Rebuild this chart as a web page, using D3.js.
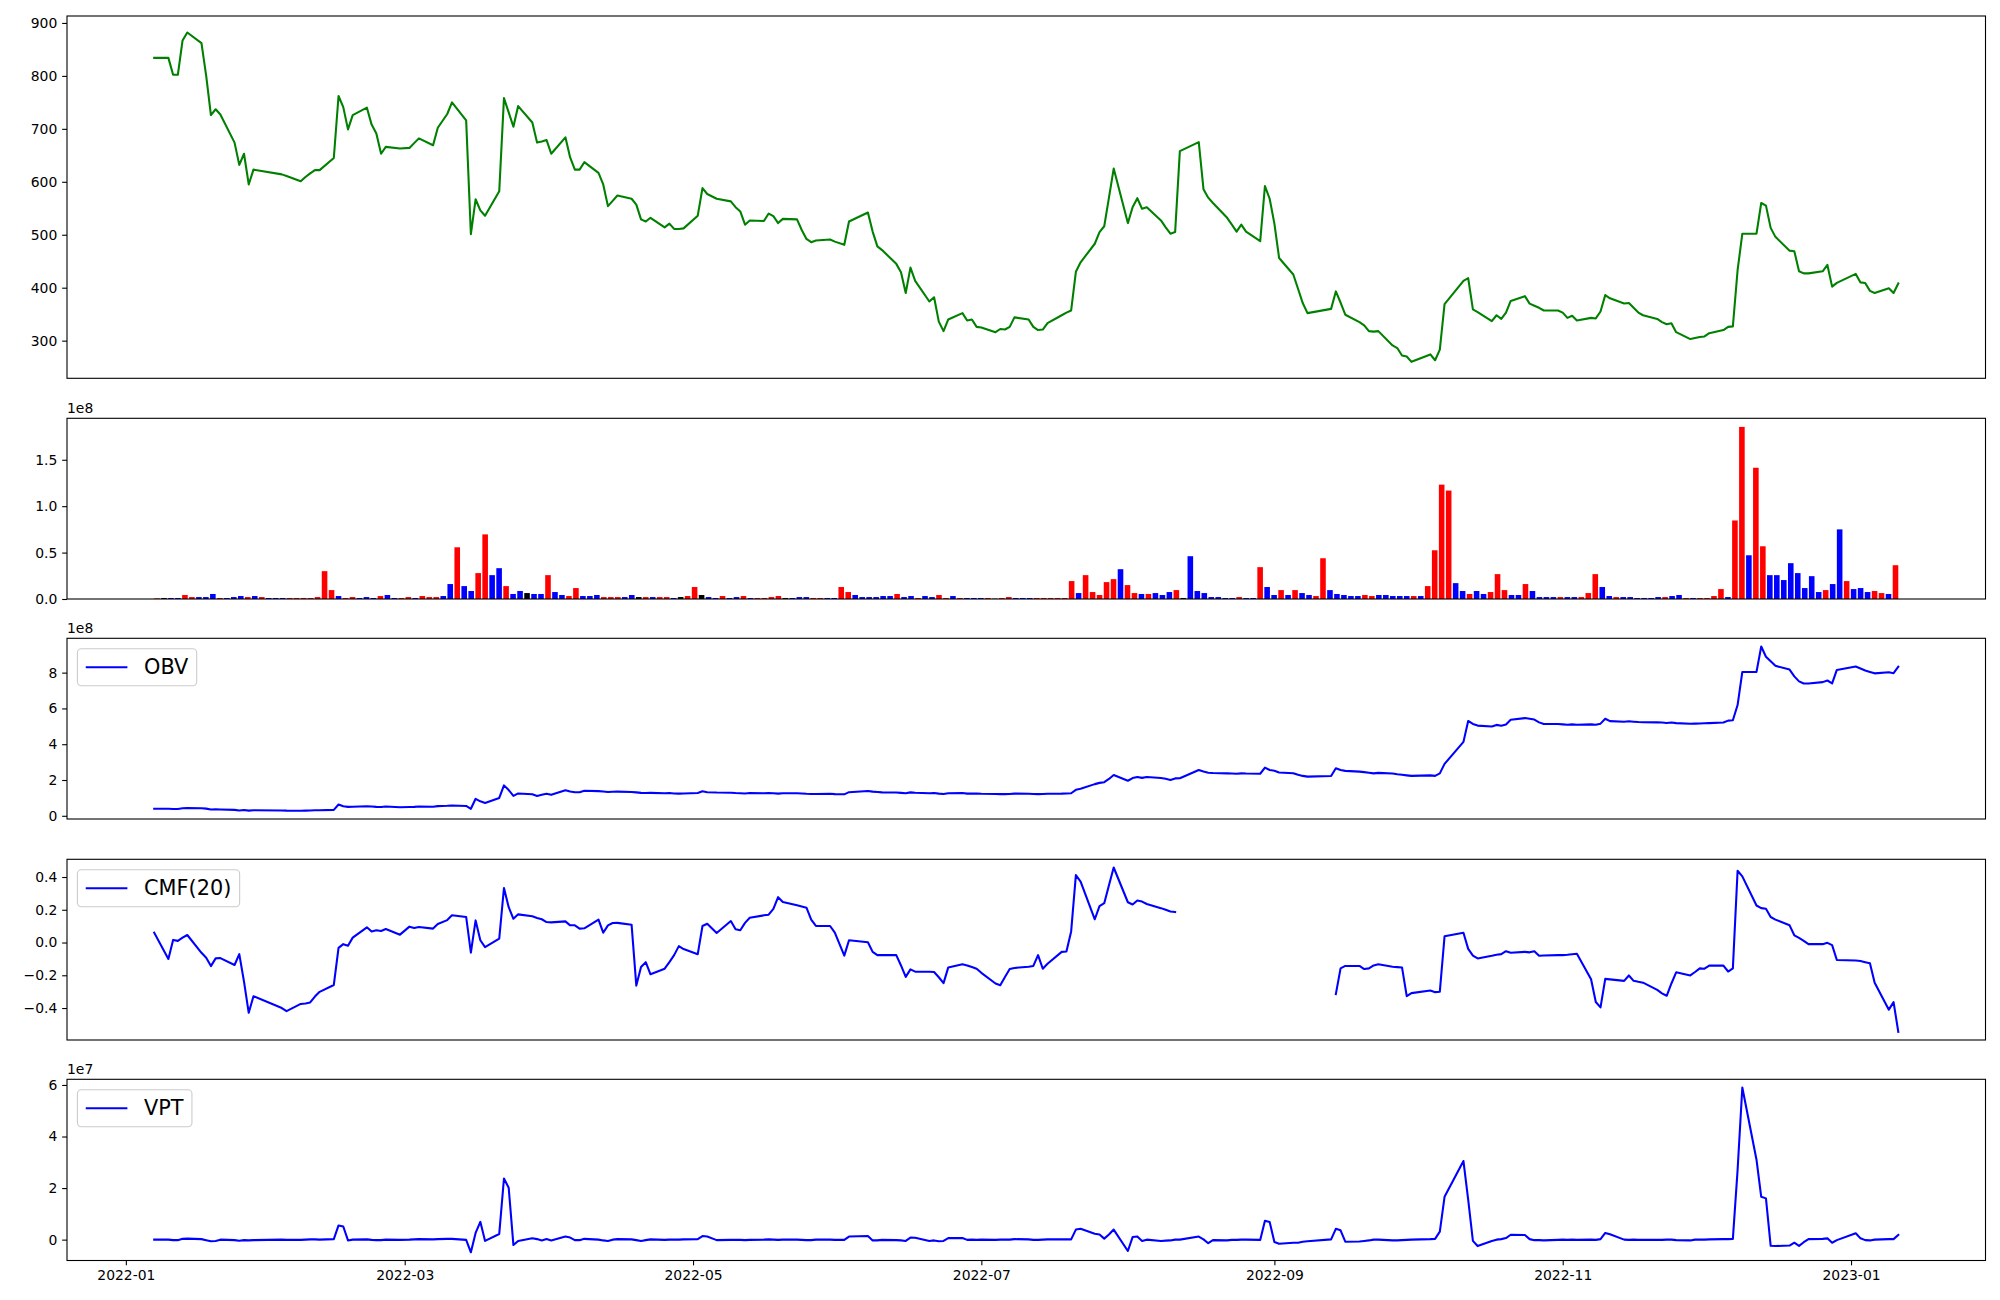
<!DOCTYPE html>
<html><head><meta charset="utf-8">
<script src="https://cdn.jsdelivr.net/npm/d3@7"></script>
<style>body{margin:0;background:#fff}svg{display:block}</style>
</head><body><svg id="c" width="2000" height="1300"></svg>
<script>
// ---------- DATA ----------
const monthDays = [
 ["2022-01",[7,10,11,12,13,14,17,18,19,20,21,24,25,26,27,28]],
 ["2022-02",[3,4,7,8,9,10,11,14,15,16,17,18,21,22,23,24,25,28]],
 ["2022-03",[2,3,4,7,8,10,11,14,15,16,17,18,21,22,23,24,25,28,29,30,31]],
 ["2022-04",[1,4,5,6,7,8,11,12,13,14,15,18,19,20,21,22,25,26,27,28,29]],
 ["2022-05",[2,3,4,6,9,10,11,12,13,16,17,18,19,20,23,24,25,26,27,30,31]],
 ["2022-06",[2,3,7,8,9,10,13,14,15,16,17,20,21,22,23,24,27,28,29,30]],
 ["2022-07",[1,4,5,6,7,8,11,12,13,14,15,18,19,20,21,22,25,26,27,28,29]],
 ["2022-08",[1,2,3,4,5,8,9,10,11,12,16,17,18,19,22,23,24,25,26,29,30,31]],
 ["2022-09",[1,2,5,6,7,8,13,14,15,16,19,20,21,22,23,26,27,28,29,30]],
 ["2022-10",[4,5,6,7,11,12,13,14,17,18,19,20,21,24,25,26,27,28,31]],
 ["2022-11",[1,2,3,4,7,8,9,10,11,14,15,16,17,18,21,22,23,24,25,28,29,30]],
 ["2022-12",[1,2,5,6,7,8,9,12,13,14,15,16,19,20,21,22,23,26,27,28,29]],
 ["2023-01",[2,3,4,5,6,9,10,11]]
];
const close = [
 834,834,802,802,867,882,862,800,726,737,727,674,632,653,595,623,
 614,611,601,609,616,622,622,645,762,741,699,726,740,708,691,653,666,663,
 664,673,682,669,702,728,750,716,501,567,546,536,582,758,731,704,743,712,674,676,679,
 653,684,646,623,623,637,617,595,554,564,574,568,557,529,525,532,514,521,511,511,512,
 536,588,577,568,563,552,544,519,527,526,540,535,522,530,529,509,492,486,489,491,487,
 481,525,542,506,478,471,445,429,390,438,413,374,382,336,318,340,352,338,340,326,
 325,316,322,321,326,344,340,326,320,321,333,348,353,357,430,448,483,505,516,570,625,
 522,552,569,549,552,527,514,502,505,658,675,586,570,560,532,519,506,519,506,488,592,568,
 521,456,425,398,371,352,360,393,372,349,335,329,318,317,318,291,286,272,270,260,
 274,263,283,369,413,418,359,354,337,348,341,353,375,384,370,366,362,357,357,
 353,343,347,338,343,342,355,386,380,370,371,362,353,348,341,335,331,333,316,303,305,307,
 308,314,320,326,327,433,502,502,560,555,513,496,470,469,431,427,427,431,443,402,409,
 426,410,409,394,390,399,390,408
];
// volume in millions of shares
const volume = [
 0.7,1.1,1.1,1.1,4.3,2.1,2.1,2.1,5.4,1.1,1.1,2.1,3.2,2.1,3.2,2.1,
 1.1,1.1,1.1,1.1,1.1,1.1,1.1,2.1,30.0,9.6,3.2,1.1,2.1,1.1,2.1,1.1,3.2,4.3,
 1.1,1.1,2.1,1.1,3.2,2.1,2.1,3.2,16.1,55.7,13.9,8.6,27.9,69.6,25.7,33.2,13.9,5.4,8.6,6.4,5.4,
 5.4,25.7,7.5,4.3,3.2,11.8,3.2,3.2,4.3,2.1,2.1,2.1,2.1,4.3,2.1,2.1,2.1,2.1,2.1,1.1,2.1,
 3.2,12.9,4.3,2.1,1.1,3.2,1.1,2.1,3.2,1.1,1.1,1.1,2.1,3.2,1.1,1.1,2.1,2.1,1.1,1.1,1.1,
 1.1,12.9,7.5,4.3,2.1,2.1,2.1,3.2,3.2,5.4,2.1,3.2,1.1,3.2,2.1,4.3,1.1,3.2,1.1,1.1,
 1.1,1.1,1.1,0.4,1.1,2.1,1.1,1.1,1.1,1.1,1.1,1.1,1.1,1.1,19.3,6.4,25.7,7.5,4.3,18.2,21.4,
 32.1,15.0,6.4,5.4,5.4,6.4,4.3,7.5,9.6,1.1,46.1,8.6,6.4,2.1,2.1,1.1,1.1,2.1,1.1,1.1,34.3,12.9,
 4.3,9.6,4.3,9.6,6.4,4.3,3.2,43.9,9.6,5.4,4.3,3.2,3.2,4.3,3.2,4.3,4.3,3.2,3.2,3.2,
 3.2,3.2,13.9,52.5,123.2,116.8,17.1,8.6,5.4,8.6,5.4,7.5,26.8,9.6,4.3,4.3,16.1,8.6,2.1,
 2.1,2.1,2.1,2.1,2.1,2.1,6.4,26.8,12.9,3.2,2.1,2.1,2.1,1.1,1.1,1.1,2.1,2.1,3.2,4.3,1.1,1.1,
 1.1,1.1,3.2,10.7,2.1,84.6,185.4,47.1,141.4,56.8,25.7,25.7,20.4,38.6,27.9,11.8,24.6,7.5,9.6,16.1,75.0,
 19.3,10.7,11.8,7.5,8.6,6.4,5.4,36.4
];
// candle direction of each day: r = close above open, b = below, k = unchanged
const candleDir = (
 "rkbbrrbbbrbbbrbr" + "bbbrrrrrrrbrrbbbrb" + "brrbrrrbbrbbrrbbrbbkb" + "brbbrrbbbrrrbbkrbrrbk" +
 "rrkbbrbbrbrrrrkbbbrrb" + "brrbbbbbbrbbrbbrrbrb" + "bbrkrrbbbrrrrrrbrrrrr" + "brrbrbbbrkbbbbbbbrbbrb" +
 "brbrbbrrbbbbbrrbbbbb" + "rbrrrrbbrbbrrrbbrbb" + "bbrbbrrrbbrbbbbbbrbbrb" + "rrrrbrrbrrbbbbbbbbrbb" + "rbbbrrbr"
).split("");
// On-balance volume (units of 1e8)
const obv = [
 0.39,0.39,0.38,0.38,0.42,0.44,0.42,0.40,0.35,0.36,0.35,0.33,0.30,0.32,0.29,0.31,
 0.30,0.29,0.28,0.29,0.30,0.31,0.31,0.33,0.63,0.53,0.50,0.51,0.53,0.52,0.50,0.49,0.52,0.48,
 0.49,0.50,0.52,0.51,0.54,0.56,0.58,0.55,0.39,0.95,0.81,0.72,1.00,1.70,1.44,1.11,1.25,1.20,1.11,1.17,1.23,
 1.17,1.43,1.36,1.32,1.32,1.40,1.38,1.36,1.33,1.34,1.35,1.33,1.31,1.28,1.27,1.28,1.26,1.27,1.25,1.24,1.25,
 1.27,1.37,1.32,1.30,1.29,1.27,1.26,1.25,1.27,1.26,1.27,1.26,1.24,1.26,1.26,1.25,1.23,1.22,1.22,1.23,1.21,
 1.20,1.32,1.39,1.35,1.33,1.31,1.30,1.28,1.26,1.31,1.29,1.26,1.27,1.24,1.22,1.26,1.27,1.24,1.25,1.24,
 1.23,1.22,1.21,1.21,1.22,1.24,1.23,1.22,1.21,1.22,1.23,1.24,1.25,1.26,1.45,1.51,1.77,1.84,1.88,2.06,2.28,
 1.96,2.11,2.17,2.12,2.17,2.11,2.07,2.00,2.09,2.10,2.56,2.47,2.41,2.39,2.37,2.36,2.35,2.37,2.36,2.35,2.69,2.56,
 2.52,2.42,2.38,2.29,2.23,2.19,2.22,2.66,2.56,2.51,2.47,2.44,2.41,2.37,2.40,2.36,2.32,2.29,2.26,2.23,
 2.26,2.23,2.37,2.90,4.13,5.30,5.13,5.04,4.99,5.08,5.03,5.10,5.37,5.46,5.42,5.38,5.22,5.13,5.13,
 5.11,5.09,5.11,5.09,5.11,5.09,5.15,5.42,5.29,5.26,5.28,5.26,5.24,5.23,5.22,5.21,5.19,5.21,5.18,5.14,5.15,5.16,
 5.17,5.18,5.21,5.32,5.34,6.19,8.04,8.04,9.46,8.89,8.63,8.38,8.17,7.79,7.51,7.39,7.39,7.47,7.56,7.40,8.15,
 8.34,8.23,8.12,8.04,7.96,8.02,7.97,8.33
];
// Chaikin money flow, 20 days (null = not defined)
const cmf = [
 0.06,-0.10,0.016,0.01,0.03,0.046,-0.063,-0.093,-0.144,-0.097,-0.095,-0.137,-0.071,-0.239,-0.429,-0.328,
 -0.40,-0.419,-0.375,-0.372,-0.366,-0.33,-0.301,-0.259,-0.033,-0.01,-0.02,0.03,0.093,0.067,0.075,0.07,0.083,0.048,
 0.097,0.089,0.095,0.085,0.113,0.137,0.166,0.156,-0.062,0.135,0.014,-0.028,0.024,0.333,0.216,0.145,0.172,0.16,0.15,0.142,0.125,
 0.123,0.129,0.105,0.105,0.085,0.087,0.14,0.06,0.105,0.119,0.12,0.109,-0.263,-0.15,-0.12,-0.194,-0.16,-0.12,-0.077,-0.022,-0.04,
 -0.071,0.101,0.115,0.058,0.131,0.081,0.075,0.12,0.151,0.166,0.17,0.206,0.277,0.247,0.227,0.22,0.213,0.14,0.101,0.101,0.06,
 -0.08,0.014,0.002,-0.057,-0.077,-0.077,-0.077,-0.14,-0.21,-0.164,-0.178,-0.178,-0.18,-0.212,-0.248,-0.152,-0.133,-0.14,-0.15,-0.16,
 -0.185,-0.25,-0.261,-0.21,-0.162,-0.155,-0.148,-0.143,-0.077,-0.16,-0.13,-0.057,-0.055,0.068,0.412,0.372,0.142,0.222,0.24,0.35,0.458,
 0.246,0.232,0.257,0.25,0.235,0.21,0.20,0.19,0.186,null,null,null,null,null,null,null,null,null,null,null,null,null,
 null,null,null,null,null,null,null,-0.315,-0.158,-0.143,-0.143,-0.162,-0.158,-0.14,-0.133,-0.148,-0.15,-0.152,-0.327,-0.309,
 -0.293,-0.303,-0.30,0.038,0.06,-0.039,-0.08,-0.097,-0.081,-0.075,-0.071,-0.053,-0.062,-0.057,-0.06,-0.053,-0.081,-0.079,-0.077,
 -0.077,-0.075,-0.072,-0.069,-0.224,-0.363,-0.396,-0.222,-0.225,-0.234,-0.201,-0.234,-0.24,-0.245,-0.289,-0.31,-0.325,-0.25,-0.182,-0.201,-0.18,-0.158,
 -0.16,-0.141,-0.141,-0.177,-0.158,0.438,0.404,0.226,0.21,0.206,0.156,0.14,0.105,0.044,0.028,0.01,-0.01,-0.01,-0.002,-0.016,-0.107,
 -0.11,-0.113,-0.12,-0.127,-0.245,-0.41,-0.364,-0.545
];
// Volume price trend (units of 1e7)
const vpt = [
 0.0,0.0,-0.02,-0.02,0.03,0.04,0.02,-0.02,-0.06,-0.05,0.0,-0.02,-0.04,-0.02,-0.03,-0.02,
 0.0,-0.01,-0.01,0.0,0.01,0.01,0.0,0.02,0.55,0.51,-0.03,0.0,0.01,-0.01,-0.02,-0.02,0.0,-0.01,
 0.0,0.01,0.02,0.01,0.02,0.03,0.03,-0.01,-0.49,0.26,0.69,-0.05,0.22,2.37,2.01,-0.21,-0.05,0.05,0.02,-0.03,0.02,
 -0.03,0.12,0.08,-0.02,-0.02,0.03,0.0,-0.03,-0.05,0.0,0.02,0.01,-0.02,-0.05,-0.02,0.01,-0.01,0.0,0.0,0.0,0.01,
 0.02,0.14,0.12,-0.02,-0.01,-0.01,-0.01,-0.02,-0.01,0.0,0.01,0.0,-0.01,0.0,0.0,-0.01,-0.02,-0.02,0.0,0.0,-0.01,
 -0.01,0.12,0.14,-0.03,-0.03,-0.01,-0.02,-0.03,-0.05,0.08,0.07,-0.05,-0.03,-0.06,-0.05,0.06,0.06,-0.01,0.0,-0.01,
 0.0,-0.01,0.0,0.0,0.0,0.02,0.01,-0.01,-0.01,0.0,0.01,0.01,0.01,0.01,0.39,0.42,0.23,0.2,0.04,0.2,0.39,
 -0.44,0.1,0.12,-0.05,0.0,-0.05,-0.04,-0.03,0.0,0.0,0.12,0.01,-0.14,-0.02,-0.03,-0.01,-0.01,0.0,0.0,-0.01,0.73,0.68,
 -0.09,-0.16,-0.12,-0.12,-0.08,-0.06,0.01,0.42,0.36,-0.08,-0.07,-0.05,-0.03,0.0,0.0,-0.03,-0.03,-0.02,-0.01,0.0,
 0.02,0.03,0.31,1.66,3.05,1.55,-0.05,-0.25,-0.05,0.0,0.02,0.06,0.19,0.18,0.02,-0.02,-0.02,-0.03,-0.01,
 0.0,-0.01,0.0,-0.01,0.0,-0.01,0.02,0.26,0.21,0.0,-0.01,0.0,-0.01,-0.01,-0.01,-0.01,0.0,0.0,-0.02,-0.03,0.0,0.0,
 0.0,0.01,0.02,0.02,0.03,2.7,5.9,3.1,1.66,1.6,-0.24,-0.25,-0.23,-0.12,-0.24,-0.1,0.02,0.03,0.05,-0.12,-0.02,
 0.25,0.05,-0.02,-0.03,0.0,0.02,0.02,0.18
];
const priceTicks = [300,400,500,600,700,800,900];
const volTicks = [0,50,100,150];          // millions -> shown as x1e8
const obvTicks = [0,2,4,6,8];
const cmfTicks = [-0.4,-0.2,0,0.2,0.4];
const vptTicks = [0,2,4,6];
const dateTicks = ["2022-01","2022-03","2022-05","2022-07","2022-09","2022-11","2023-01"];
const legendLabels = {obv:"OBV", cmf:"CMF(20)", vpt:"VPT"};

// ---------- LAYOUT ----------
const dates = monthDays.flatMap(([m, ds]) => ds.map(d => new Date(m + "-" + String(d).padStart(2,"0") + "T00:00:00")));
const n = dates.length;
const L = 67, R = 1985.5;
const P = {
  price:[16,378.3], vol:[418.3,599], obv:[638.3,819], cmf:[859.3,1040], vpt:[1079.3,1260.5]
};
const FONT = "DejaVu Sans, sans-serif";
const svg = d3.select("#c");
svg.append("rect").attr("width",2000).attr("height",1300).attr("fill","#fff");

const t0 = dates[0].getTime(), t1 = dates[n-1].getTime(), span = t1 - t0;
const x = d3.scaleTime().domain([new Date(t0 - 0.05*span), new Date(t1 + 0.05*span)]).range([L, R]);
const xi = d3.scaleLinear().domain([-0.4 - 0.05*(n-0.2), n-1+0.4 + 0.05*(n-0.2)]).range([L, R]);

function mplDomain(vals){
  const e = d3.extent(vals.filter(v => v !== null));
  const m = (e[1]-e[0])*0.05;
  return [e[0]-m, e[1]+m];
}
function yAxis(scale, vals, fmt){
  const g = svg.append("g").attr("transform",`translate(${L},0)`)
    .call(d3.axisLeft(scale).tickValues(vals).tickFormat(fmt).tickSize(4.86).tickPadding(4.86));
  g.select(".domain").remove();
  g.attr("font-size",13.9).attr("font-family",FONT);
  g.selectAll("line").attr("stroke","#000").attr("stroke-width",1.1);
  g.selectAll("text").attr("fill","#000");
}
function frame([top,bottom]){
  svg.append("rect").attr("x",L).attr("y",top).attr("width",R-L).attr("height",bottom-top)
    .attr("fill","none").attr("stroke","#000").attr("stroke-width",1.1);
}
function offsetText([top], txt){
  svg.append("text").attr("x",L).attr("y",top-5).attr("font-size",13.9).attr("font-family",FONT)
    .attr("fill","#000").text(txt);
}
function linePath(data, y, color){
  const line = d3.line().defined(d => d !== null).x((d,i)=>x(dates[i])).y(d=>y(d));
  svg.append("path").datum(data).attr("d",line).attr("fill","none").attr("stroke",color)
    .attr("stroke-width",2.08).attr("stroke-linejoin","round").attr("stroke-linecap","square");
}
function legend([top], label){
  const fs = 20.83, bx = L + 0.5*fs, by = top + 0.5*fs, h = 37;
  const g = svg.append("g");
  const rect = g.append("rect");
  const t = g.append("text").attr("x", bx + 0.4*fs + 2*fs + 0.8*fs).attr("y", by + h/2)
    .attr("dominant-baseline","central").attr("font-size",fs).attr("font-family",FONT).attr("fill","#000").text(label);
  const tw = t.node().getComputedTextLength();
  const w = 0.4*fs + 2*fs + 0.8*fs + tw + 0.4*fs;
  rect.attr("x",bx).attr("y",by).attr("width",w).attr("height",h).attr("rx",4).attr("ry",4)
    .attr("fill","#fff").attr("fill-opacity",0.8).attr("stroke","#cccccc").attr("stroke-width",1.1);
  g.append("line").attr("x1",bx+0.4*fs).attr("x2",bx+2.4*fs).attr("y1",by+h/2).attr("y2",by+h/2)
    .attr("stroke","#0000ff").attr("stroke-width",2.08);
}

// ---------- PRICE ----------
const yP = d3.scaleLinear().domain(mplDomain(close)).range([P.price[1], P.price[0]]);
linePath(close, yP, "#008000");
frame(P.price);
yAxis(yP, priceTicks, d3.format("d"));

// ---------- VOLUME ----------
const yV = d3.scaleLinear().domain([0, d3.max(volume)*1.05]).range([P.vol[1], P.vol[0]]);
const bw = 0.8*(xi(1)-xi(0));
const dirColor = {r:"#ff0000", b:"#0000ff", k:"#000000"};
svg.append("g").selectAll("rect").data(volume).join("rect")
  .attr("x",(d,i)=>xi(i)-bw/2).attr("width",bw)
  .attr("y",d=>yV(d)).attr("height",d=>yV(0)-yV(d))
  .attr("fill",(d,i)=>dirColor[candleDir[i]]);
frame(P.vol);
yAxis(yV, volTicks, v => (v/100).toFixed(1));
offsetText(P.vol, "1e8");

// ---------- OBV ----------
const yO = d3.scaleLinear().domain(mplDomain(obv)).range([P.obv[1], P.obv[0]]);
linePath(obv, yO, "#0000ff");
frame(P.obv);
yAxis(yO, obvTicks, d3.format("d"));
offsetText(P.obv, "1e8");
legend(P.obv, legendLabels.obv);

// ---------- CMF ----------
const yC = d3.scaleLinear().domain(mplDomain(cmf)).range([P.cmf[1], P.cmf[0]]);
linePath(cmf, yC, "#0000ff");
frame(P.cmf);
yAxis(yC, cmfTicks, d3.format(".1f"));
legend(P.cmf, legendLabels.cmf);

// ---------- VPT ----------
const yT = d3.scaleLinear().domain(mplDomain(vpt)).range([P.vpt[1], P.vpt[0]]);
linePath(vpt, yT, "#0000ff");
frame(P.vpt);
yAxis(yT, vptTicks, d3.format("d"));
offsetText(P.vpt, "1e7");
legend(P.vpt, legendLabels.vpt);

// date axis
const gx = svg.append("g").attr("transform",`translate(0,${P.vpt[1]})`)
  .call(d3.axisBottom(x).tickValues(dateTicks.map(s => new Date(s+"-01T00:00:00")))
    .tickFormat(d3.timeFormat("%Y-%m")).tickSize(4.86).tickPadding(4.86));
gx.select(".domain").remove();
gx.attr("font-size",13.9).attr("font-family",FONT);
gx.selectAll("line").attr("stroke","#000").attr("stroke-width",1.1);
gx.selectAll("text").attr("fill","#000");
</script></body></html>
